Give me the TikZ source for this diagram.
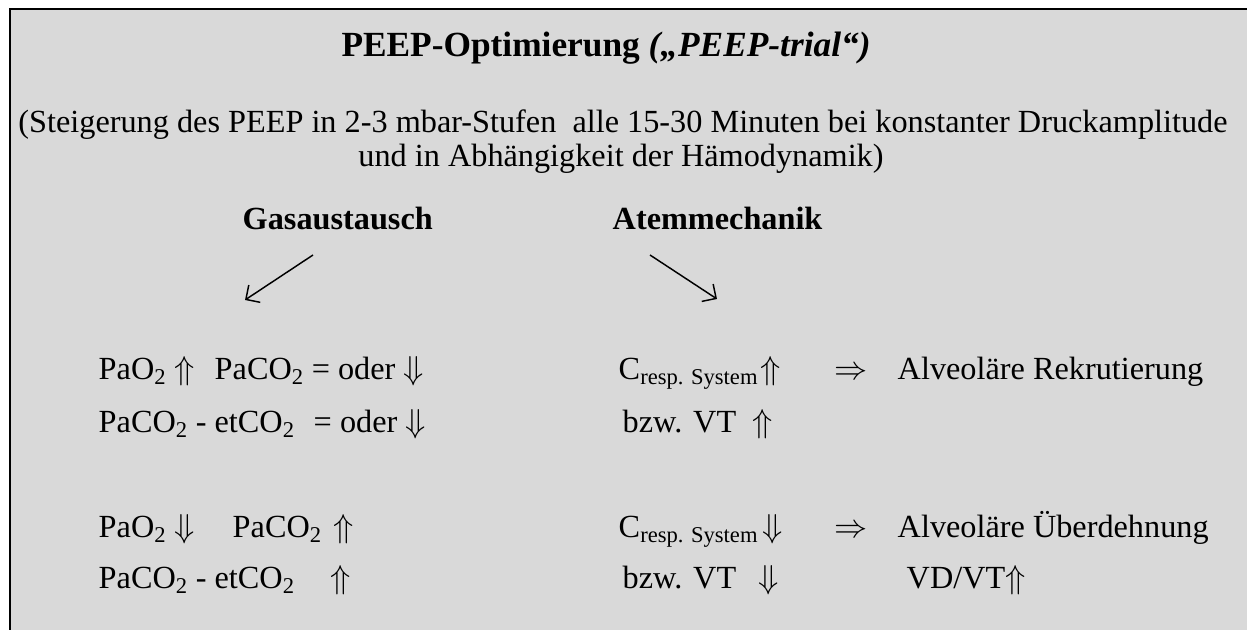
\documentclass[tikz,border=0pt]{standalone}
\usepackage{fontspec}
\setmainfont{Liberation Serif}
\usetikzlibrary{arrows.meta}
\definecolor{BoxGrey}{HTML}{D9D9D9}
\newcommand\pfup{$\Uparrow$}
\newcommand\pfdown{$\Downarrow$}
\newcommand\pfimpl{$\Rightarrow$}
\newcommand\pfsub[1]{\textsubscript{#1}}
\newcommand\pfcresp{C\textsubscript{resp. System}}
\tikzstyle{txt} = [inner sep=0pt, anchor=base west, font=\fontsize{24.2}{28}\selectfont]
\tikzstyle{ctxt} = [txt, anchor=base]
\tikzstyle{hd} = [txt, font=\fontsize{24.2}{28}\selectfont\bfseries]
\tikzset{>={Straight Barb[angle=90:11pt]}, every picture/.style={line width=1.1pt}}
\begin{document}
\begin{tikzpicture}[x=0.75pt, y=-0.75pt]
\useasboundingbox (0,0) rectangle (1247,630);
\fill[BoxGrey] (9,8) rectangle (1247,630);
\draw[line width=2pt] (10,630) -- (10,9) -- (1247,9);
% heading
\node[hd, anchor=base, font=\fontsize{26.5}{30}\selectfont\bfseries] (title) at (606, 57) {PEEP-Optimierung \textit{(„PEEP-trial“)}};
\node[ctxt] (info1) at (623, 133) {(Steigerung des PEEP in 2-3 mbar-Stufen\ \ alle 15-30 Minuten bei konstanter Druckamplitude};
\node[ctxt] (info2) at (621, 167) {und in Abhängigkeit der Hämodynamik)};
\node[hd] (gas) at (242, 230) {Gasaustausch};
\node[hd] (atem) at (612, 230) {Atemmechanik};
% arrows
\coordinate (gasA) at (313, 255);
\coordinate (gasB) at (245, 300);
\coordinate (atemA) at (650, 255);
\coordinate (atemB) at (717, 299);
\draw[->] (gasA) -- (gasB);
\draw[->] (atemA) -- (atemB);
% first block
\node[txt] (pao2a) at (98, 380) {PaO\pfsub{2} \pfup};
\node[txt] (paco2a) at (214, 380) {PaCO\pfsub{2} = oder \pfdown};
\node[txt] (crespa) at (618, 380) {\pfcresp};
\node[txt] (upa) at (760, 380) {\pfup};
\node[txt] (impla) at (834, 380) {\pfimpl};
\node[txt] (rekr) at (897, 380) {Alveoläre Rekrutierung};
\node[txt] (diffa) at (98, 433) {PaCO\pfsub{2} - etCO\pfsub{2}};
\node[txt] (odera) at (313, 433) {= oder \pfdown};
\node[txt] (vta) at (622, 433) {bzw. VT};
\node[txt] (vtupa) at (752, 433) {\pfup};
% second block
\node[txt] (pao2b) at (98, 538) {PaO\pfsub{2} \pfdown};
\node[txt] (paco2b) at (232, 538) {PaCO\pfsub{2}};
\node[txt] (upb) at (333, 538) {\pfup};
\node[txt] (crespb) at (618, 538) {\pfcresp};
\node[txt] (downb) at (762, 538) {\pfdown};
\node[txt] (implb) at (834, 538) {\pfimpl};
\node[txt] (ueber) at (897, 538) {Alveoläre Überdehnung};
\node[txt] (diffb) at (98, 589) {PaCO\pfsub{2} - etCO\pfsub{2}};
\node[txt] (upc) at (330, 589) {\pfup};
\node[txt] (vtb) at (622, 589) {bzw. VT};
\node[txt] (vtdownb) at (758, 589) {\pfdown};
\node[txt] (vdvt) at (906, 589) {VD/VT\pfup};
\end{tikzpicture}
\end{document}
